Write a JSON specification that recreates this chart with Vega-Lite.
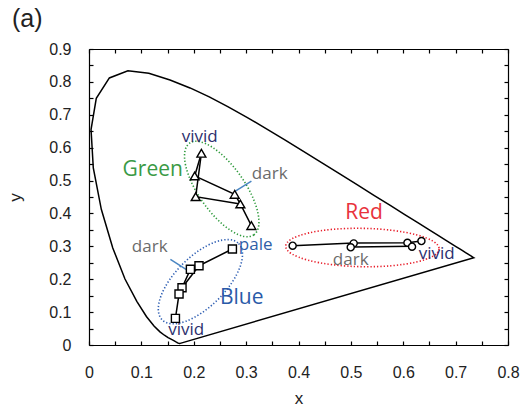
{
  "$schema": "https://vega.github.io/schema/vega-lite/v6.json",
  "width": 419,
  "height": 296,
  "autosize": "none",
  "padding": {"left": 89, "top": 49, "right": 22, "bottom": 67},
  "title": {"text": "(a)", "anchor": "start", "frame": "group", "dx": -77, "offset": 9, "font": "Liberation Sans", "fontSize": 25, "fontWeight": "normal", "color": "#222"},
  "config": {"view": {"stroke": null}, "axis": {"grid": false, "domainColor": "#000", "tickColor": "#000", "domainWidth": 1.2, "tickWidth": 1.2, "labelOverlap": false, "labelBound": false, "labelFlush": false}},
  "datasets": {
    "locus": [
      {"o": 0, "x": 0.1741, "y": 0.005}, {"o": 1, "x": 0.1738, "y": 0.0049}, {"o": 2, "x": 0.1733, "y": 0.0048},
      {"o": 3, "x": 0.1726, "y": 0.0048}, {"o": 4, "x": 0.1714, "y": 0.0051}, {"o": 5, "x": 0.1703, "y": 0.0058},
      {"o": 6, "x": 0.1689, "y": 0.0069}, {"o": 7, "x": 0.1669, "y": 0.0086}, {"o": 8, "x": 0.1644, "y": 0.0109},
      {"o": 9, "x": 0.1611, "y": 0.0138}, {"o": 10, "x": 0.1566, "y": 0.0177}, {"o": 11, "x": 0.151, "y": 0.0227},
      {"o": 12, "x": 0.144, "y": 0.0297}, {"o": 13, "x": 0.1355, "y": 0.0399}, {"o": 14, "x": 0.1241, "y": 0.0578},
      {"o": 15, "x": 0.1096, "y": 0.0868}, {"o": 16, "x": 0.0913, "y": 0.1327}, {"o": 17, "x": 0.0687, "y": 0.2007},
      {"o": 18, "x": 0.0454, "y": 0.295}, {"o": 19, "x": 0.0235, "y": 0.4127}, {"o": 20, "x": 0.0082, "y": 0.5384},
      {"o": 21, "x": 0.0039, "y": 0.6548}, {"o": 22, "x": 0.0139, "y": 0.7502}, {"o": 23, "x": 0.0389, "y": 0.812},
      {"o": 24, "x": 0.0743, "y": 0.8338}, {"o": 25, "x": 0.1142, "y": 0.8262}, {"o": 26, "x": 0.1547, "y": 0.8059},
      {"o": 27, "x": 0.1929, "y": 0.7816}, {"o": 28, "x": 0.2296, "y": 0.7543}, {"o": 29, "x": 0.2658, "y": 0.7243},
      {"o": 30, "x": 0.3016, "y": 0.6923}, {"o": 31, "x": 0.3373, "y": 0.6589}, {"o": 32, "x": 0.3731, "y": 0.6245},
      {"o": 33, "x": 0.4087, "y": 0.5896}, {"o": 34, "x": 0.4441, "y": 0.5547}, {"o": 35, "x": 0.4788, "y": 0.5202},
      {"o": 36, "x": 0.5125, "y": 0.4866}, {"o": 37, "x": 0.5448, "y": 0.4544}, {"o": 38, "x": 0.5752, "y": 0.4242},
      {"o": 39, "x": 0.6029, "y": 0.3965}, {"o": 40, "x": 0.627, "y": 0.3725}, {"o": 41, "x": 0.6482, "y": 0.3514},
      {"o": 42, "x": 0.6658, "y": 0.334}, {"o": 43, "x": 0.6801, "y": 0.3197}, {"o": 44, "x": 0.6915, "y": 0.3083},
      {"o": 45, "x": 0.7006, "y": 0.2993}, {"o": 46, "x": 0.7079, "y": 0.292}, {"o": 47, "x": 0.714, "y": 0.2859},
      {"o": 48, "x": 0.719, "y": 0.2809}, {"o": 49, "x": 0.723, "y": 0.277}, {"o": 50, "x": 0.726, "y": 0.274},
      {"o": 51, "x": 0.73, "y": 0.27}, {"o": 52, "x": 0.732, "y": 0.268}, {"o": 53, "x": 0.7334, "y": 0.2666},
      {"o": 54, "x": 0.7347, "y": 0.2653}, {"o": 55, "x": 0.1741, "y": 0.005}
    ],
    "paths": [
      {"p": "g1", "o": 1, "x": 0.31, "y": 0.363}, {"p": "g1", "o": 2, "x": 0.289, "y": 0.429}, {"p": "g1", "o": 3, "x": 0.2782, "y": 0.458},
      {"p": "g1", "o": 4, "x": 0.2018, "y": 0.514}, {"p": "g1", "o": 5, "x": 0.2146, "y": 0.583},
      {"p": "g2", "o": 1, "x": 0.2146, "y": 0.583}, {"p": "g2", "o": 2, "x": 0.2037, "y": 0.451}, {"p": "g2", "o": 3, "x": 0.289, "y": 0.429},
      {"p": "b1", "o": 1, "x": 0.2738, "y": 0.2919}, {"p": "b1", "o": 2, "x": 0.21, "y": 0.241}, {"p": "b1", "o": 3, "x": 0.1936, "y": 0.23},
      {"p": "b1", "o": 4, "x": 0.1776, "y": 0.174}, {"p": "b1", "o": 5, "x": 0.1719, "y": 0.155}, {"p": "b1", "o": 6, "x": 0.165, "y": 0.081},
      {"p": "b2", "o": 1, "x": 0.21, "y": 0.241}, {"p": "b2", "o": 2, "x": 0.1776, "y": 0.174},
      {"p": "r1", "o": 1, "x": 0.3888, "y": 0.302}, {"p": "r1", "o": 2, "x": 0.5054, "y": 0.31}, {"p": "r1", "o": 3, "x": 0.608, "y": 0.311},
      {"p": "r1", "o": 4, "x": 0.6347, "y": 0.316},
      {"p": "r2", "o": 1, "x": 0.5054, "y": 0.298}, {"p": "r2", "o": 2, "x": 0.6168, "y": 0.3}
    ],
    "pts": [
      {"s": "Green", "x": 0.2146, "y": 0.583}, {"s": "Green", "x": 0.2018, "y": 0.514}, {"s": "Green", "x": 0.2037, "y": 0.451},
      {"s": "Green", "x": 0.2782, "y": 0.458}, {"s": "Green", "x": 0.289, "y": 0.429}, {"s": "Green", "x": 0.31, "y": 0.363},
      {"s": "Blue", "x": 0.2738, "y": 0.2919}, {"s": "Blue", "x": 0.21, "y": 0.241}, {"s": "Blue", "x": 0.1936, "y": 0.23},
      {"s": "Blue", "x": 0.1776, "y": 0.174}, {"s": "Blue", "x": 0.1719, "y": 0.155}, {"s": "Blue", "x": 0.165, "y": 0.081},
      {"s": "Red", "x": 0.3888, "y": 0.302}, {"s": "Red", "x": 0.5054, "y": 0.309}, {"s": "Red", "x": 0.4997, "y": 0.297},
      {"s": "Red", "x": 0.608, "y": 0.311}, {"s": "Red", "x": 0.6168, "y": 0.299}, {"s": "Red", "x": 0.6347, "y": 0.316}
    ],
    "ell": [
      {"s": "Red", "x": 0.522, "y": 0.2964},
      {"s": "Green", "x": 0.2534, "y": 0.4743},
      {"s": "Blue", "x": 0.2127, "y": 0.1925}
    ],
    "labels": [
      {"t": "vivid", "k": "vivid", "x": 0.2114, "y": 0.6333},
      {"t": "dark", "k": "dark", "x": 0.345, "y": 0.5214},
      {"t": "dark", "k": "dark", "x": 0.1159, "y": 0.298},
      {"t": "pale", "k": "pale", "x": 0.3183, "y": 0.304},
      {"t": "vivid", "k": "vivid", "x": 0.1856, "y": 0.0456},
      {"t": "dark", "k": "dark", "x": 0.4997, "y": 0.2584},
      {"t": "vivid", "k": "vivid", "x": 0.6639, "y": 0.2782}
    ],
    "names": [
      {"t": "Green", "k": "Green", "x": 0.1216, "y": 0.5321},
      {"t": "Blue", "k": "Blue", "x": 0.2916, "y": 0.1429},
      {"t": "Red", "k": "Red", "x": 0.5251, "y": 0.4013}
    ],
    "pointers": [
      {"x": 0.3101, "y": 0.4986, "x2": 0.2795, "y2": 0.4682},
      {"x": 0.1554, "y": 0.2606, "x2": 0.189, "y2": 0.2259}
    ]
  },
  "layer": [
    {
      "data": {"name": "locus"},
      "mark": {"type": "line", "color": "#000", "strokeWidth": 1.5},
      "encoding": {
        "x": {"field": "x", "type": "quantitative", "scale": {"domain": [0, 0.8], "nice": false, "zero": false},
          "axis": {"orient": "bottom", "values": [0, 0.05, 0.1, 0.15, 0.2, 0.25, 0.3, 0.35, 0.4, 0.45, 0.5, 0.55, 0.6, 0.65, 0.7, 0.75, 0.8],
            "labelExpr": "round(datum.value*20) % 2 == 0 ? format(datum.value, '~g') : ''", "tickSize": -4, "labelPadding": 23,
            "labelFont": "Liberation Sans", "labelFontSize": 16, "labelColor": "#222", "title": "x", "titleFont": "Liberation Sans",
            "titleFontSize": 17, "titleFontWeight": "normal", "titleColor": "#222", "titlePadding": 10}},
        "y": {"field": "y", "type": "quantitative", "scale": {"domain": [0, 0.9], "nice": false, "zero": false},
          "axis": {"orient": "left", "values": [0, 0.05, 0.1, 0.15, 0.2, 0.25, 0.3, 0.35, 0.4, 0.45, 0.5, 0.55, 0.6, 0.65, 0.7, 0.75, 0.8, 0.85, 0.9],
            "labelExpr": "round(datum.value*20) % 2 == 0 ? format(datum.value, '~g') : ''", "tickSize": -4, "labelPadding": 22,
            "labelFont": "Liberation Sans", "labelFontSize": 16, "labelColor": "#222", "title": "y", "titleFont": "Liberation Sans",
            "titleFontSize": 17, "titleFontWeight": "normal", "titleColor": "#222", "titlePadding": 24}},
        "order": {"field": "o", "type": "quantitative"}
      }
    },
    {
      "data": {"name": "ell"},
      "mark": {"type": "point", "opacity": 0},
      "encoding": {
        "x": {"field": "x", "type": "quantitative", "scale": {"domain": [0, 0.8], "nice": false, "zero": false},
          "axis": {"orient": "top", "values": [0, 0.05, 0.1, 0.15, 0.2, 0.25, 0.3, 0.35, 0.4, 0.45, 0.5, 0.55, 0.6, 0.65, 0.7, 0.75, 0.8], "labels": false, "tickSize": -4, "title": null}},
        "y": {"field": "y", "type": "quantitative", "scale": {"domain": [0, 0.9], "nice": false, "zero": false},
          "axis": {"orient": "right", "values": [0, 0.05, 0.1, 0.15, 0.2, 0.25, 0.3, 0.35, 0.4, 0.45, 0.5, 0.55, 0.6, 0.65, 0.7, 0.75, 0.8, 0.85, 0.9], "labels": false, "tickSize": -4, "title": null}}
      }
    },
    {
      "data": {"name": "ell"},
      "transform": [{"filter": "datum.s == 'Red'"}],
      "mark": {"type": "point", "shape": "M1,0C1,0.138,0.552,0.25,0,0.25C-0.552,0.25,-1,0.138,-1,0C-1,-0.138,-0.552,-0.25,0,-0.25C0.552,-0.25,1,-0.138,1,0Z",
        "size": 23532, "angle": 1, "filled": false, "stroke": "#e8202c", "strokeWidth": 1.6, "strokeDash": [1.3, 2], "opacity": 1},
      "encoding": {
        "x": {"field": "x", "type": "quantitative", "scale": {"domain": [0, 0.8], "nice": false, "zero": false}, "axis": null},
        "y": {"field": "y", "type": "quantitative", "scale": {"domain": [0, 0.9], "nice": false, "zero": false}, "axis": null}
      }
    },
    {
      "data": {"name": "ell"},
      "transform": [{"filter": "datum.s == 'Green'"}],
      "mark": {"type": "point", "shape": "M1,0C1,0.226,0.552,0.41,0,0.41C-0.552,0.41,-1,0.226,-1,0C-1,-0.226,-0.552,-0.41,0,-0.41C0.552,-0.41,1,-0.226,1,0Z",
        "size": 12544, "angle": 55, "filled": false, "stroke": "#2f9a3c", "strokeWidth": 1.6, "strokeDash": [1.3, 2], "opacity": 1},
      "encoding": {
        "x": {"field": "x", "type": "quantitative", "scale": {"domain": [0, 0.8], "nice": false, "zero": false}, "axis": null},
        "y": {"field": "y", "type": "quantitative", "scale": {"domain": [0, 0.9], "nice": false, "zero": false}, "axis": null}
      }
    },
    {
      "data": {"name": "ell"},
      "transform": [{"filter": "datum.s == 'Blue'"}],
      "mark": {"type": "point", "shape": "M1,0C1,0.256,0.552,0.463,0,0.463C-0.552,0.463,-1,0.256,-1,0C-1,-0.256,-0.552,-0.463,0,-0.463C0.552,-0.463,1,-0.256,1,0Z",
        "size": 11664, "angle": 315, "filled": false, "stroke": "#2f5fb3", "strokeWidth": 1.6, "strokeDash": [1.3, 2], "opacity": 1},
      "encoding": {
        "x": {"field": "x", "type": "quantitative", "scale": {"domain": [0, 0.8], "nice": false, "zero": false}, "axis": null},
        "y": {"field": "y", "type": "quantitative", "scale": {"domain": [0, 0.9], "nice": false, "zero": false}, "axis": null}
      }
    },
    {
      "data": {"name": "pointers"},
      "mark": {"type": "rule", "color": "#4a86c2", "strokeWidth": 1.5},
      "encoding": {
        "x": {"field": "x", "type": "quantitative", "scale": {"domain": [0, 0.8], "nice": false, "zero": false}, "axis": null},
        "y": {"field": "y", "type": "quantitative", "scale": {"domain": [0, 0.9], "nice": false, "zero": false}, "axis": null},
        "x2": {"field": "x2"},
        "y2": {"field": "y2"}
      }
    },
    {
      "data": {"name": "paths"},
      "mark": {"type": "line", "color": "#000", "strokeWidth": 1.5},
      "encoding": {
        "x": {"field": "x", "type": "quantitative", "scale": {"domain": [0, 0.8], "nice": false, "zero": false}, "axis": null},
        "y": {"field": "y", "type": "quantitative", "scale": {"domain": [0, 0.9], "nice": false, "zero": false}, "axis": null},
        "detail": {"field": "p", "type": "nominal"},
        "order": {"field": "o", "type": "quantitative"}
      }
    },
    {
      "data": {"name": "pts"},
      "mark": {"type": "point", "filled": true, "fill": "#fff", "stroke": "#000", "strokeWidth": 1.4, "opacity": 1},
      "encoding": {
        "x": {"field": "x", "type": "quantitative", "scale": {"domain": [0, 0.8], "nice": false, "zero": false}, "axis": null},
        "y": {"field": "y", "type": "quantitative", "scale": {"domain": [0, 0.9], "nice": false, "zero": false}, "axis": null},
        "shape": {"field": "s", "type": "nominal", "scale": {"domain": ["Green", "Blue", "Red"], "range": ["triangle-up", "square", "circle"]}, "legend": null},
        "size": {"field": "s", "type": "nominal", "scale": {"domain": ["Green", "Blue", "Red"], "range": [80, 50, 90]}, "legend": null}
      }
    },
    {
      "data": {"name": "labels"},
      "mark": {"type": "text", "font": "Open Sans", "fontSize": 17, "align": "center", "baseline": "middle"},
      "encoding": {
        "x": {"field": "x", "type": "quantitative", "scale": {"domain": [0, 0.8], "nice": false, "zero": false}, "axis": null},
        "y": {"field": "y", "type": "quantitative", "scale": {"domain": [0, 0.9], "nice": false, "zero": false}, "axis": null},
        "text": {"field": "t"},
        "color": {"field": "k", "type": "nominal", "scale": {"domain": ["vivid", "dark", "pale", "Green", "Blue", "Red"], "range": ["#2c2f6e", "#6b6b6b", "#2f5fa8", "#3a9a45", "#2a5aa8", "#e8323c"]}, "legend": null}
      }
    },
    {
      "data": {"name": "names"},
      "mark": {"type": "text", "font": "Open Sans", "fontSize": 21, "align": "center", "baseline": "middle"},
      "encoding": {
        "x": {"field": "x", "type": "quantitative", "scale": {"domain": [0, 0.8], "nice": false, "zero": false}, "axis": null},
        "y": {"field": "y", "type": "quantitative", "scale": {"domain": [0, 0.9], "nice": false, "zero": false}, "axis": null},
        "text": {"field": "t"},
        "color": {"field": "k", "type": "nominal", "scale": {"domain": ["vivid", "dark", "pale", "Green", "Blue", "Red"], "range": ["#2c2f6e", "#6b6b6b", "#2f5fa8", "#3a9a45", "#2a5aa8", "#e8323c"]}, "legend": null}
      }
    }
  ],
  "resolve": {"axis": {"x": "independent", "y": "independent"}}
}
